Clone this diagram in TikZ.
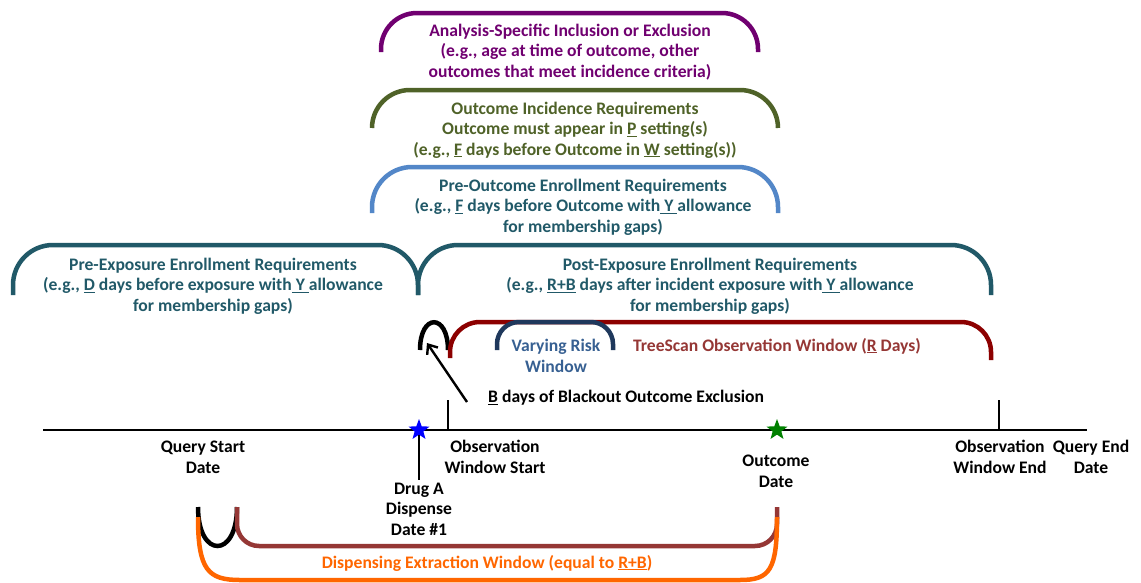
\documentclass[tikz,border=0pt]{standalone}
\usepackage{fontspec}
\setmainfont{Carlito}
\usepackage{tikz}
\usetikzlibrary{arrows.meta,positioning,shapes.geometric}
\definecolor{ASpurple}{RGB}{112,0,112}
\definecolor{OIolive}{RGB}{79,98,40}
\definecolor{POblue}{RGB}{83,135,200}
\definecolor{ENteal}{RGB}{33,89,104}
\definecolor{TSred}{RGB}{140,0,0}
\definecolor{TStext}{RGB}{149,55,53}
\definecolor{VRdark}{RGB}{31,56,92}
\definecolor{VRtext}{RGB}{55,96,146}
\definecolor{DEbrown}{RGB}{149,55,53}
\definecolor{DEorange}{RGB}{255,102,0}
\newcommand{\ul}[1]{\underline{#1}}
\tikzset{
  lbl/.style={font=\bfseries\fontsize{17.6}{20.6}\selectfont, align=center, text=#1, inner sep=2pt},
  lbl/.default=black,
  brk/.style={draw=#1, line width=4.5pt, line cap=butt},
  tick/.style={draw=black, line width=2.2pt},
  arr/.style={-{Straight Barb[length=8pt,width=13pt]}, line width=2.4pt, #1},
}

\begin{document}
\begin{tikzpicture}[x=1pt,y=-1pt]
    \useasboundingbox (0,0) rectangle (1141,582);

    % upper brackets
    \draw[brk=ASpurple,rounded corners=36] (381,52) -- (381,13) -- (758,13) -- (758,52);
    \draw[brk=OIolive,rounded corners=38] (372,128) -- (372,90) -- (778,90) -- (778,128);
    \draw[brk=POblue,rounded corners=40] (372,213) -- (372,167) -- (778,167) -- (778,213);
    \draw[brk=ENteal,rounded corners=40] (13,295) -- (13,245) -- (418,245) -- (418,295);
    \draw[brk=ENteal,rounded corners=40] (418,295) -- (418,245) -- (991,245) -- (991,295);

    \node[lbl=ASpurple] (asie) at (570,52)
      {Analysis-Specific Inclusion or Exclusion\\(e.g., age at time of outcome, other\\outcomes that meet incidence criteria)};
    \node[lbl=OIolive] (oir) at (575,130)
      {Outcome Incidence Requirements\\Outcome must appear in \ul{P} setting(s)\\(e.g., \ul{F} days before Outcome in \ul{W} setting(s))};
    \node[lbl=ENteal] (poer) at (583,207)
      {Pre-Outcome Enrollment Requirements\\(e.g., \ul{F} days before Outcome with\ul{ Y }allowance\\for membership gaps)};
    \node[lbl=ENteal] (peer) at (213,286)
      {Pre-Exposure Enrollment Requirements\\(e.g., \ul{D} days before exposure with\ul{ Y }allowance\\for membership gaps)};
    \node[lbl=ENteal] (pxer) at (710,286)
      {Post-Exposure Enrollment Requirements\\(e.g., \ul{R+B} days after incident exposure with\ul{ Y }allowance\\for membership gaps)};

    % observation window
    \draw[brk=black] (420,350) .. controls (420,313) and (448,313) .. (448,350);
    \draw[brk=TSred,rounded corners=30] (450,358) -- (450,322) -- (991,322) -- (991,360);
    \draw[brk=VRdark,rounded corners=22] (497,350) -- (497,322) -- (613,322) -- (613,350);
    \node[lbl=VRtext] (vrw) at (556,356) {Varying Risk\\Window};
    \node[lbl=TStext] (tsow) at (777,346) {TreeScan Observation Window (\ul{R} Days)};

    \node[lbl, anchor=west] (bnote) at (486,398) {\ul{B} days of Blackout Outcome Exclusion};
    \coordinate (btail) at (467,402);
    \coordinate (bhead) at (427,343);
    \draw[arr] (btail) -- (bhead);

    % time line
    \draw[line width=2pt] (43,430) -- (1087,430);
    \draw[tick] (448,400) -- (448,430);
    \draw[tick] (999,400) -- (999,430);
    \node[star, star points=5, star point ratio=2.4, fill=blue, inner sep=0pt, minimum size=22pt] (dstar) at (419,430) {};
    \node[star, star points=5, star point ratio=2.4, fill=green!50!black, inner sep=0pt, minimum size=22pt] (ostar) at (777,430) {};

    \node[lbl] (qsd) at (203,457) {Query Start\\Date};
    \node[lbl] (drug) at (419,509) {Drug A\\Dispense\\Date \#1};
    \node[lbl] (owst) at (495,457) {Observation\\Window Start};
    \node[lbl] (odate) at (776,471) {Outcome\\Date};
    \node[lbl] (owend) at (1000,457) {Observation\\Window End};
    \node[lbl] (qed) at (1091,457) {Query End\\Date};
    \draw[tick] (dstar.south) -- (drug.north);

    % dispensing extraction window
    \draw[brk=black] (198,507) .. controls (198,559) and (237,559) .. (237,507);
    \draw[brk=DEbrown,rounded corners=22] (237,507) -- (237,546) -- (777,546) -- (777,507);
    \draw[brk=DEorange] (198,517) .. controls (198,570) and (208,580) .. (240,580)
      -- (740,580) .. controls (770,580) and (777,570) .. (777,517);
    \node[lbl=DEorange] (dew) at (487,563) {Dispensing Extraction Window (equal to \ul{R+B})};
\end{tikzpicture}
\end{document}
